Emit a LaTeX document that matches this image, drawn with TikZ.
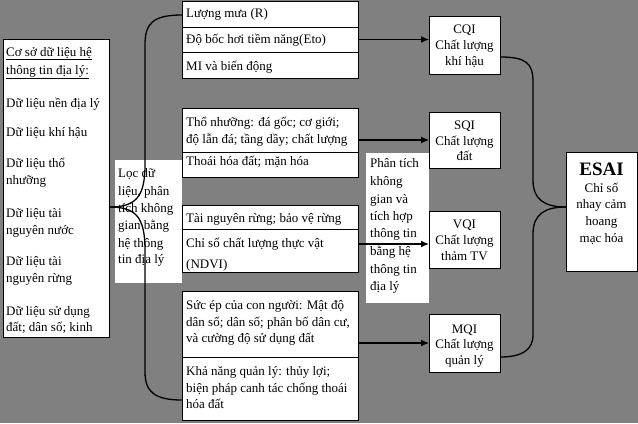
\documentclass[tikz,border=0pt]{standalone}
\usepackage{fontspec}
\setmainfont{Liberation Serif}
\usetikzlibrary{arrows.meta}
\definecolor{bg}{RGB}{128,128,128}
\begin{document}
\begin{tikzpicture}[x=1bp,y=-1bp,
  box/.style={draw=black,line width=0.8bp,fill=white,anchor=north west,inner sep=0pt,outer sep=0pt},
  pane/.style={fill=white,anchor=north west,inner sep=0pt,outer sep=0pt},
  tl/.style={anchor=base west,inner sep=0pt,font=\fontsize{13bp}{16bp}\selectfont},
  tc/.style={anchor=base,inner sep=0pt,font=\fontsize{13bp}{16bp}\selectfont},
  link/.style={line width=1.3bp,draw=black},
  arr/.style={link,-{Latex[length=8bp,width=7bp]}}]
\useasboundingbox[fill=bg] (0,0) rectangle (638,423);

% white panes without border
\node[pane,minimum width=67bp,minimum height=123bp] (filt) at (115,160) {};
\node[pane,minimum width=63bp,minimum height=150bp] (integ) at (366,153) {};

% source box
\node[box,minimum width=106bp,minimum height=298bp] (src) at (3,39) {};

% row boxes
\node[box,minimum width=176bp,minimum height=26bp] (r11) at (182,1) {};
\node[box,minimum width=176bp,minimum height=25bp] (r12) at (182,27) {};
\node[box,minimum width=176bp,minimum height=26bp] (r13) at (182,52) {};
\node[box,minimum width=176bp,minimum height=44bp] (r21) at (182,108) {};
\node[box,minimum width=176bp,minimum height=25bp] (r22) at (182,152) {};
\node[box,minimum width=176bp,minimum height=24bp] (r31) at (182,205) {};
\node[box,minimum width=176bp,minimum height=43bp] (r32) at (182,229) {};
\node[box,minimum width=176bp,minimum height=66bp] (r41) at (182,291) {};
\node[box,minimum width=176bp,minimum height=63bp] (r42) at (182,357) {};

% index boxes
\node[box,minimum width=71bp,minimum height=58bp] (cqi) at (429,16) {};
\node[box,minimum width=71bp,minimum height=56bp] (sqi) at (429,112) {};
\node[box,minimum width=71bp,minimum height=57bp] (vqi) at (429,211) {};
\node[box,minimum width=71bp,minimum height=58bp] (mqi) at (429,314) {};
\node[box,minimum width=71bp,minimum height=119bp] (esai) at (566,152) {};

% source texts
\node[tl] (s1) at (6,56) {\underline{Cơ sở dữ liệu hệ}};
\node[tl] (s2) at (6,74) {\underline{thông tin địa lý:}};
\node[tl] (s3) at (6,107) {Dữ liệu nền địa lý};
\node[tl] (s4) at (6,136) {Dữ liệu khí hậu};
\node[tl] (s5) at (6,167) {Dữ liệu thổ};
\node[tl] (s6) at (6,184) {nhưỡng};
\node[tl] (s7) at (6,217) {Dữ liệu tài};
\node[tl] (s8) at (6,234) {nguyên nước};
\node[tl] (s9) at (6,265) {Dữ liệu tài};
\node[tl] (s10) at (6,282) {nguyên rừng};
\node[tl] (s11) at (6,315) {Dữ liệu sử dụng};
\node[tl] (s12) at (6,331) {đất; dân số; kinh};

% filter texts
\node[tl] (f1) at (118,177) {Lọc dữ};
\node[tl] (f2) at (118,195) {liệu, phân};
\node[tl] (f3) at (118,212) {tích không};
\node[tl] (f4) at (118,229) {gian bằng};
\node[tl] (f5) at (118,247) {hệ thông};
\node[tl] (f6) at (118,263) {tin địa lý};

% row texts
\node[tl] (t1) at (186,17) {Lượng mưa (R)};
\node[tl] (t2) at (186,43) {Độ bốc hơi tiềm năng(Eto)};
\node[tl] (t3) at (186,70) {MI và biến động};
\node[tl] (t4) at (186,126) {Thổ nhưỡng: đá gốc; cơ giới;};
\node[tl] (t5) at (186,143) {độ lẫn đá; tầng dầy; chất lượng};
\node[tl] (t6) at (186,165) {Thoái hóa đất; mặn hóa};
\node[tl] (t7) at (186,222) {Tài nguyên rừng; bảo vệ rừng};
\node[tl] (t8) at (186,247) {Chỉ số chất lượng thực vật};
\node[tl] (t9) at (186,268) {(NDVI)};
\node[tl] (t10) at (186,309) {Sức ép của con người: Mật độ};
\node[tl] (t11) at (186,326) {dân số; dân số; phân bố dân cư,};
\node[tl] (t12) at (186,342) {và cường độ sử dụng đất};
\node[tl] (t13) at (186,375) {Khả năng quản lý: thủy lợi;};
\node[tl] (t14) at (186,392) {biện pháp canh tác chống thoái};
\node[tl] (t15) at (186,408) {hóa đất};

% integration texts
\node[tl] (g1) at (370,167) {Phân tích};
\node[tl] (g2) at (370,185) {không};
\node[tl] (g3) at (370,203) {gian và};
\node[tl] (g4) at (370,220) {tích hợp};
\node[tl] (g5) at (370,237) {thông tin};
\node[tl] (g6) at (370,255) {bằng hệ};
\node[tl] (g7) at (370,273) {thông tin};
\node[tl] (g8) at (370,290) {địa lý};

% index texts
\node[tc] (c1) at (464.5,33) {CQI};
\node[tc] (c2) at (464.5,49) {Chất lượng};
\node[tc] (c3) at (464.5,65) {khí hậu};
\node[tc] (q1) at (464.5,129) {SQI};
\node[tc] (q2) at (464.5,145) {Chất lượng};
\node[tc] (q3) at (464.5,160) {đất};
\node[tc] (v1) at (464.5,228) {VQI};
\node[tc] (v2) at (464.5,244) {Chất lượng};
\node[tc] (v3) at (464.5,260) {thảm TV};
\node[tc] (m1) at (464.5,333) {MQI};
\node[tc] (m2) at (464.5,348) {Chất lượng};
\node[tc] (m3) at (464.5,364) {quản lý};
\node[tc,font=\fontsize{19bp}{22bp}\selectfont\bfseries] (e1) at (601.5,175) {ESAI};
\node[tc] (e2) at (601.5,192) {Chỉ số};
\node[tc] (e3) at (601.5,208) {nhay cảm};
\node[tc] (e4) at (601.5,225) {hoang};
\node[tc] (e5) at (601.5,242) {mạc hóa};

% arrows
\draw[arr] (r12.east) -- (cqi.west |- r12.east);
\draw[arr] (r21.east |- sqi.west) -- (sqi.west);
\draw[arr] (r32.east |- 0,244) -- (vqi.west |- 0,244);
\draw[arr] (r41.east |- mqi.west) -- (mqi.west);

% left brace
\draw[link] (r11.west |- 0,15) .. controls (152,15) and (145,24) .. (145,45) -- (145,165)
  .. controls (145,198) and (135,207) .. (src.east |- 0,207);
\draw[link] (src.east |- 0,207) .. controls (135,207) and (145,216) .. (145,250) -- (145,372)
  .. controls (145,392) and (155,400) .. (r42.west |- 0,400);

% right brace
\draw[link] (cqi.east |- 0,57) .. controls (526,57) and (533,63) .. (533,82) -- (533,180)
  .. controls (533,200) and (545,207) .. (esai.west |- 0,207);
\draw[link] (esai.west |- 0,207) .. controls (545,207) and (533,214) .. (533,234) -- (533,335)
  .. controls (533,350) and (522,357) .. (mqi.east |- 0,357);
\end{tikzpicture}
\end{document}
